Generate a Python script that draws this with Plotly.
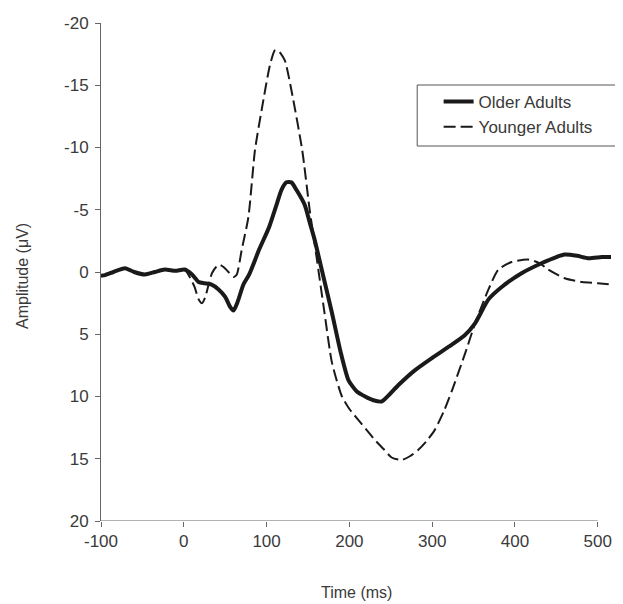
import plotly.graph_objects as go

# Older adults (solid)
older_t = [-100, -95, -85, -71, -60, -47, -35, -23, -10, 1, 10, 18, 25, 33, 42, 50, 56, 60,
           65, 72, 79, 91, 103, 112, 118, 124, 130, 136, 146, 152, 158, 168, 179, 189, 199,
           209, 219, 229, 239, 249, 259, 279, 300, 320, 339, 352, 368, 384, 408, 432, 450,
           460, 475, 489, 505, 517]
older_v = [0.3, 0.25, 0.0, -0.3, 0.0, 0.2, 0.0, -0.2, -0.1, -0.2, 0.2, 0.8, 0.9, 1.0, 1.4, 2.0,
           2.8, 3.1, 2.4, 1.0, 0.2, -1.8, -3.6, -5.4, -6.6, -7.2, -7.2, -6.6, -5.4, -4.0, -2.6,
           0.2, 3.3, 6.3, 8.7, 9.6, 10.0, 10.3, 10.4, 9.8, 9.1, 7.9, 6.9, 6.0, 5.1, 4.1, 2.2,
           1.2, 0.1, -0.7, -1.2, -1.4, -1.3, -1.1, -1.2, -1.2]

# Younger adults (dashed)
younger_t = [-100, -95, -85, -71, -60, -47, -35, -23, -10, 1, 8, 13, 18, 22, 26, 30, 34, 39,
             43, 48, 54, 60, 64, 70, 78, 86, 94, 104, 110, 114, 122, 130, 143, 152, 158, 170,
             179, 191, 200, 211, 221, 231, 241, 251, 263, 273, 283, 293, 303, 314, 324, 340,
             352, 368, 380, 396, 416, 430, 440, 460, 481, 500, 517]
younger_v = [0.3, 0.25, 0.0, -0.3, 0.0, 0.2, 0.0, -0.2, -0.1, -0.2, 0.5, 1.2, 2.2, 2.5, 2.0,
             1.0, 0.1, -0.4, -0.6, -0.4, 0.0, 0.4, 0.2, -1.8, -4.4, -9.8, -13.0, -16.6, -17.8,
             -17.8, -17.0, -14.6, -9.8, -5.0, -2.3, 3.3, 7.3, 10.0, 11.0, 11.9, 12.7, 13.5,
             14.2, 14.9, 15.1, 14.8, 14.3, 13.6, 12.7, 11.2, 9.5, 6.5, 4.1, 1.4, -0.2, -0.8,
             -1.0, -0.7, -0.2, 0.5, 0.8, 0.9, 1.0]

x_ticks = [-100, 0, 100, 200, 300, 400, 500]
x_labels = ["-100", "0", "100", "200", "300", "400", "500"]
y_ticks = [-20, -15, -10, -5, 0, 5, 10, 15, 20]
y_labels = ["-20", "-15", "-10", "-5", "0", "5", "10", "15", "20"]

txt = "#3a3a3a"

fig = go.Figure()
fig.add_trace(go.Scatter(x=older_t, y=older_v, mode="lines", name="Older Adults",
                         line=dict(color="#1a1a1a", width=4, shape="spline", smoothing=0.6)))
fig.add_trace(go.Scatter(x=younger_t, y=younger_v, mode="lines", name="Younger Adults",
                         line=dict(color="#1a1a1a", width=2, dash="12px,5px",
                                   shape="spline", smoothing=0.6)))

# bottom axis line only spans -100..500
fig.add_shape(type="line", xref="x", yref="y", x0=-100, x1=500, y0=20, y1=20,
              line=dict(color="#666", width=1))
# legend box (runs off the right edge)
fig.add_shape(type="rect", xref="paper", yref="paper", x0=0.62, x1=1.06, y0=0.753, y1=0.8755,
              line=dict(color="#555", width=1))

# axis titles as annotations so they do not push the margins
fig.add_annotation(text="Time (ms)", xref="paper", yref="paper", x=0.5, y=0,
                   yanchor="middle", yshift=-71, showarrow=False,
                   font=dict(size=16, color=txt))
fig.add_annotation(text="Amplitude (μV)", xref="paper", yref="paper", x=0, y=0.5,
                   xanchor="center", yanchor="middle", xshift=-79, yshift=-4, textangle=-90,
                   showarrow=False, font=dict(size=16, color=txt))

# page body adds an 8px offset, so the figure is drawn 8px smaller
fig.update_layout(
    width=615, height=596,
    margin=dict(l=93, r=12, t=15, b=83),
    paper_bgcolor="white", plot_bgcolor="white",
    font=dict(family="Liberation Sans, Arial, sans-serif", size=17, color=txt),
    showlegend=True,
    legend=dict(x=0.662, y=0.8775, xanchor="left", yanchor="top", bgcolor="rgba(0,0,0,0)",
                borderwidth=0, font=dict(size=17, color=txt), tracegroupgap=0),
)
fig.update_xaxes(range=[-100, 516], tickvals=x_ticks, ticktext=x_labels, ticks="outside",
                 ticklen=5, tickcolor="#666", showline=False, showgrid=False, zeroline=False,
                 automargin=False)
fig.update_yaxes(range=[20, -20], tickvals=y_ticks, ticktext=y_labels, ticks="outside",
                 ticklen=5, tickcolor="#666", showline=True, linecolor="#666", linewidth=1,
                 showgrid=False, zeroline=False, ticklabelstandoff=3, automargin=False)

fig.write_html("out.html")
